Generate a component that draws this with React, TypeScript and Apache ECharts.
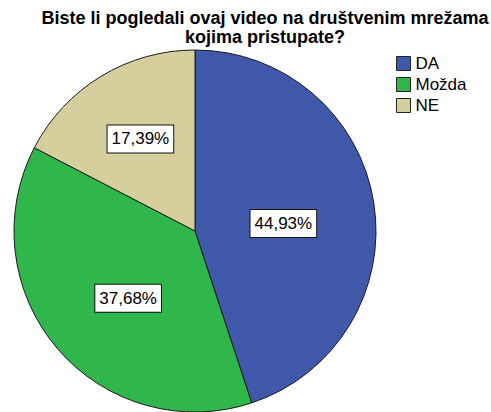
import React, { useEffect, useRef } from "react";
import * as echarts from "echarts";

const titleText = "Biste li pogledali ovaj video na društvenim mrežama\nkojima pristupate?";
const categories = ["DA", "Možda", "NE"];
const percentages = [44.93, 37.68, 17.39];
const colors = ["#3f58aa", "#2fb74b", "#d5cf9e"];

const CX = 195;
const CY = 231;
const R = 181;

export default function App() {
  const ref = useRef<HTMLDivElement>(null);
  useEffect(() => {
    if (!ref.current) return;
    const chart = echarts.init(ref.current, null, { renderer: "svg" });
    const font = "'Liberation Sans', Arial, sans-serif";
    const total = percentages.reduce((a, b) => a + b, 0);
    // label at the centroid of each sector (as SPSS does)
    const labelPos = (idx: number) => {
      let before = 0;
      for (let i = 0; i < idx; i++) before += percentages[i];
      const theta = (percentages[idx] / total) * 2 * Math.PI;
      const mid = (before / total) * 2 * Math.PI + theta / 2;
      const d = ((2 / 3) * R * Math.sin(theta / 2)) / (theta / 2);
      return { x: CX + d * Math.sin(mid), y: CY - d * Math.cos(mid) };
    };
    chart.setOption({
      animation: false,
      backgroundColor: "#ffffff",
      title: {
        text: titleText,
        left: 260,
        top: 4,
        textAlign: "center",
        textStyle: {
          fontFamily: font,
          fontWeight: "bold",
          fontSize: 18,
          lineHeight: 18.5,
          color: "#000",
        },
      },
      legend: {
        orient: "vertical",
        left: 391,
        top: 50,
        itemWidth: 14,
        itemHeight: 14,
        itemGap: 4,
        icon: "rect",
        data: categories,
        itemStyle: { borderColor: "#222", borderWidth: 1 },
        textStyle: { fontFamily: font, fontSize: 17, lineHeight: 17, color: "#000" },
      },
      series: [
        {
          type: "pie",
          center: [CX, CY],
          radius: R,
          startAngle: 90,
          clockwise: true,
          data: categories.map((c, i) => ({
            name: c,
            value: percentages[i],
            itemStyle: { color: colors[i] },
          })),
          itemStyle: { borderColor: "#1a1a1a", borderWidth: 1 },
          emphasis: { disabled: true },
          label: {
            show: true,
            position: "inside",
            formatter: (p: any) => p.value.toFixed(2).replace(".", ",") + "%",
            fontFamily: font,
            fontSize: 17,
            lineHeight: 19,
            color: "#000",
            backgroundColor: "#fff",
            borderColor: "#111",
            borderWidth: 1,
            padding: [4, 4],
          },
          labelLayout: (params: any) => {
            const p = labelPos(params.dataIndex);
            return { x: p.x + 5, y: p.y + 6, align: "center", verticalAlign: "middle" };
          },
          labelLine: { show: false },
        },
      ],
    });
    return () => chart.dispose();
  }, []);
  return (
    <div
      ref={ref}
      style={{ position: "absolute", left: 0, top: 0, width: 491, height: 412 }}
    />
  );
}
